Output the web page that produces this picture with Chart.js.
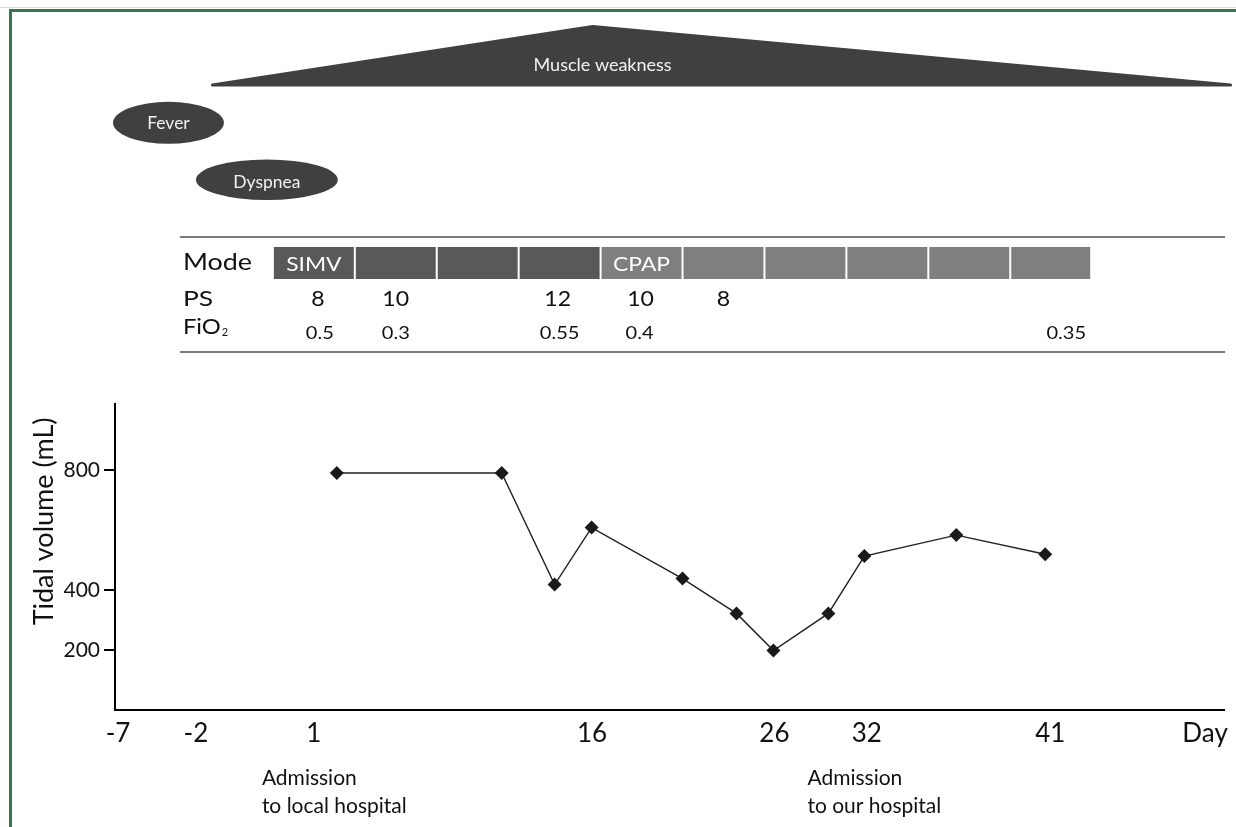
<!DOCTYPE html>
<html><head><meta charset="utf-8">
<script src="https://cdn.jsdelivr.net/npm/chart.js@4.4.1/dist/chart.umd.min.js"></script>
<style>
html,body{margin:0;padding:0;background:#fff;}
#wrap{position:relative;width:1236px;height:827px;overflow:hidden;}
#c{position:absolute;left:0;top:0;}
#frame{position:absolute;left:9px;top:9px;width:1300px;height:900px;border-top:3px solid #3a7645;border-left:3px solid #3a7645;pointer-events:none;}
#hair{position:absolute;left:0;top:7px;width:1236px;height:1px;background:#dcdcdc;}
</style></head><body>
<div id="wrap"><canvas id="c" width="1236" height="827"></canvas><div id="hair"></div><div id="frame"></div></div>
<script>
// ---- data (x values are positions along the drawn day axis) ----
const dayTickPos = [0.3, 8.1, 19.9, 47.75, 66.0, 75.25, 93.6, 109.1];
const dayTickLabels = ['-7', '-2', '1', '16', '26', '32', '41', 'Day'];
const measurePos = [22.2, 38.7, 44.0, 47.7, 56.8, 62.2, 65.9, 71.4, 75.0, 84.2, 93.1];
const tidalVolume = [790, 790, 418, 608, 438, 322, 198, 322, 513, 583, 519];
const volumeTicks = [200, 400, 800];
const feverSpan = [-0.2, 10.9];
const dyspneaSpan = [8.1, 22.3];
const weaknessSpan = [9.75, 47.8, 111.65];
const modeEdges = [15.8, 24.0, 32.2, 40.4, 48.6, 56.8, 65.0, 73.2, 81.4, 89.6, 97.7];
const modeSequence = ['SIMV', 'SIMV', 'SIMV', 'SIMV', 'CPAP', 'CPAP', 'CPAP', 'CPAP', 'CPAP', 'CPAP'];
const psPos = [20.3, 28.1, 44.3, 52.6, 60.9];
const psValues = ['8', '10', '12', '10', '8'];
const fio2Pos = [20.5, 28.1, 44.5, 52.5, 95.2];
const fio2Values = ['0.5', '0.3', '0.55', '0.4', '0.35'];
const tableSpan = [6.5, 111.1];
const eventPos = [14.7, 69.3];
const eventLines = [['Admission', 'to local hospital'], ['Admission', 'to our hospital']];

// ---- styling ----
const INK = '#111';
const DARK = '#404040';
const modeColors = { SIMV: '#595959', CPAP: '#7f7f7f' };

function txt(ctx, s, x, y, font, align, sx, color) {
  ctx.save();
  ctx.font = font; ctx.fillStyle = color; ctx.textAlign = align; ctx.textBaseline = 'alphabetic';
  ctx.translate(x, y); ctx.scale(sx, 1); ctx.fillText(s, 0, 0);
  ctx.restore();
}

const timelinePlugin = {
  id: 'timeline',
  afterDraw(chart) {
    const ctx = chart.ctx;
    const xs = chart.scales.x;
    const px = v => xs.getPixelForValue(v);
    ctx.save();
    // Muscle weakness wedge
    ctx.fillStyle = DARK; ctx.strokeStyle = DARK; ctx.lineWidth = 3; ctx.lineJoin = 'round';
    ctx.beginPath();
    ctx.moveTo(px(weaknessSpan[0]), 85);
    ctx.lineTo(px(weaknessSpan[1]), 26.5);
    ctx.lineTo(px(weaknessSpan[2]), 85);
    ctx.closePath(); ctx.fill(); ctx.stroke();
    txt(ctx, 'Muscle weakness', px(weaknessSpan[1]) + 10, 71, '18px Lato', 'center', 1, '#f2f2f2');
    // Symptom ellipses
    const ell = (span, cy, ry, label, baseY) => {
      const a = px(span[0]), b = px(span[1]);
      ctx.fillStyle = DARK;
      ctx.beginPath(); ctx.ellipse((a + b) / 2, cy, (b - a) / 2, ry, 0, 0, Math.PI * 2); ctx.fill();
      txt(ctx, label, (a + b) / 2, baseY, '17.5px Lato', 'center', 1, '#f2f2f2');
    };
    ell(feverSpan, 122.8, 21, 'Fever', 129.3);
    ell(dyspneaSpan, 179.7, 20.3, 'Dyspnea', 188);
    // Table rules
    ctx.strokeStyle = '#4d4d4d'; ctx.lineWidth = 1.5;
    [237, 352].forEach(y => {
      ctx.beginPath(); ctx.moveTo(px(tableSpan[0]), y); ctx.lineTo(px(tableSpan[1]), y); ctx.stroke();
    });
    // Mode boxes
    for (let i = 0; i < modeSequence.length; i++) {
      const x0 = px(modeEdges[i]) + 1, x1 = px(modeEdges[i + 1]) - 1;
      ctx.fillStyle = modeColors[modeSequence[i]];
      ctx.fillRect(x0, 247, x1 - x0, 32);
      if (i === 0 || modeSequence[i] !== modeSequence[i - 1]) {
        txt(ctx, modeSequence[i], (x0 + x1) / 2, 270.5, '19px Lato', 'center', 1.2, '#fff');
      }
    }
    // Row labels
    const lx = px(tableSpan[0]) + 3;
    txt(ctx, 'Mode', lx, 270, '23px Lato', 'left', 1.17, INK);
    txt(ctx, 'PS', lx, 305.5, '22px Lato', 'left', 1.2, INK);
    ctx.font = '22px Lato';
    const fw = ctx.measureText('FiO').width * 1.08;
    txt(ctx, 'FiO', lx, 333.5, '22px Lato', 'left', 1.08, INK);
    txt(ctx, '2', lx + fw + 1, 335.5, '11px Lato', 'left', 1, INK);
    // PS & FiO2 values
    psValues.forEach((v, i) => txt(ctx, v, px(psPos[i]), 305.5, '22px Lato', 'center', 1.05, INK));
    fio2Values.forEach((v, i) => txt(ctx, v, px(fio2Pos[i]), 338.5, '17px Lato', 'center', 1.18, INK));
    // Event annotations under the axis
    eventLines.forEach((lines, i) => {
      txt(ctx, lines[0], px(eventPos[i]), 785, '21px Lato', 'left', 1, INK);
      txt(ctx, lines[1], px(eventPos[i]), 813, '21px Lato', 'left', 1, INK);
    });
    ctx.restore();
  }
};

new Chart(document.getElementById('c'), {
  type: 'line',
  data: {
    datasets: [{
      label: 'Tidal volume',
      data: measurePos.map((x, i) => ({ x: x, y: tidalVolume[i] })),
      borderColor: '#222', borderWidth: 1.4, tension: 0, fill: false,
      pointStyle: 'rectRot', pointRadius: 7, pointBackgroundColor: '#1a1a1a',
      pointBorderColor: '#1a1a1a', pointBorderWidth: 0
    }]
  },
  options: {
    responsive: false, animation: false, devicePixelRatio: 1,
    layout: { padding: { top: 404, left: 0, right: 11, bottom: 0 } },
    plugins: { legend: { display: false }, tooltip: { enabled: false } },
    scales: {
      x: {
        type: 'linear', min: 0, max: 111,
        afterBuildTicks: s => { s.ticks = dayTickPos.map(v => ({ value: v })); },
        afterFit: s => { s.height = 117; },
        grid: { display: true, drawOnChartArea: false, drawTicks: false },
        border: { display: true, color: '#000', width: 2 },
        ticks: {
          autoSkip: false, maxRotation: 0, minRotation: 0, padding: 8, color: INK,
          font: { family: 'Lato', size: 26 },
          callback: (v, i) => dayTickLabels[i]
        }
      },
      y: {
        type: 'linear', min: 0, max: 1020,
        afterBuildTicks: s => { s.ticks = volumeTicks.map(v => ({ value: v })); },
        afterFit: s => { s.width = 115; },
        grid: { drawOnChartArea: false, drawTicks: true, tickLength: 11, color: '#000', lineWidth: 2 },
        border: { display: true, color: '#000', width: 2 },
        ticks: { padding: 4, color: INK, font: { family: 'Lato', size: 21 } },
        title: {
          display: true, text: 'Tidal volume (mL)\u2002', align: 'end', color: INK,
          font: { family: 'Lato', size: 27 }, padding: { top: 28, bottom: 0 }
        }
      }
    }
  },
  plugins: [timelinePlugin]
});
</script>
</body></html>
